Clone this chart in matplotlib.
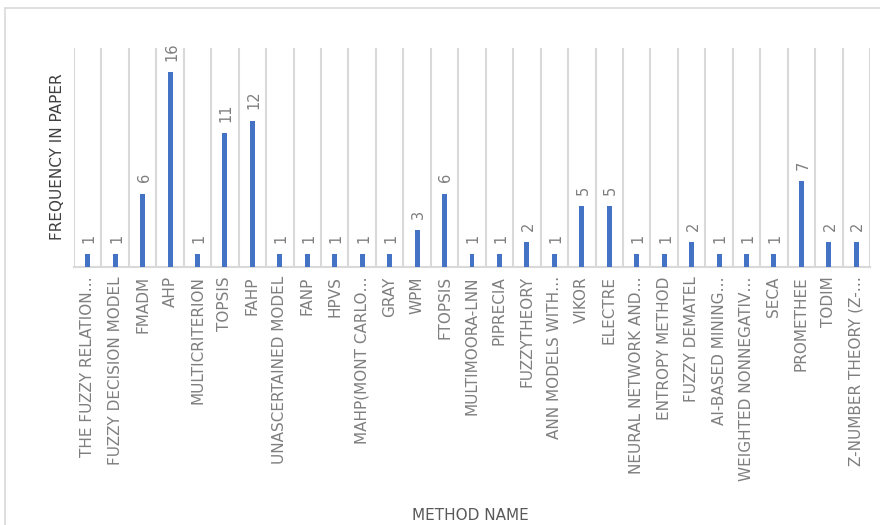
import matplotlib
matplotlib.use("Agg")
import matplotlib.pyplot as plt
from matplotlib.patches import Rectangle

methods = [
    "THE FUZZY RELATION…", "FUZZY DECISION MODEL", "FMADM", "AHP",
    "MULTICRITERION", "TOPSIS", "FAHP", "UNASCERTAINED MODEL", "FANP",
    "HPVS", "MAHP(MONT CARLO…", "GRAY", "WPM", "FTOPSIS",
    "MULTIMOORA-LNN", "PIPRECIA", "FUZZYTHEORY", "ANN MODELS WITH…",
    "VIKOR", "ELECTRE", "NEURAL NETWORK AND…", "ENTROPY METHOD",
    "FUZZY DEMATEL", "AI-BASED MINING…", "WEIGHTED NONNEGATIV…", "SECA",
    "PROMETHEE", "TODIM", "Z-NUMBER THEORY (Z-…",
]
frequency = [1, 1, 6, 16, 1, 11, 12, 1, 1, 1, 1, 1, 3, 6, 1,
             1, 2, 1, 5, 5, 1, 1, 2, 1, 1, 1, 7, 2, 2]

BAR = "#4472C4"
GRID = "#d9d9d9"
TXT = "#7f7f7f"

plt.rcParams["font.family"] = ["DejaVu Sans"]

fig = plt.figure(figsize=(8.8, 5.25), dpi=100)
fig.patches.append(Rectangle((5 / 880, -0.1), 1.2, 1.1 - 8 / 525,
                             transform=fig.transFigure, fill=False,
                             edgecolor=GRID, linewidth=1.2))

ax = fig.add_axes([74 / 880, 1 - 266.5 / 525, 796 / 880, 219 / 525])
x = list(range(len(methods)))
ax.bar(x, frequency, width=0.18, color=BAR, zorder=3)

ax.set_xlim(-0.5, len(methods) - 0.5)
ax.set_ylim(0, 18)

for b in range(len(methods) + 1):
    ax.axvline(b - 0.5, color=GRID, linewidth=1.5, zorder=1)

for xi, v in zip(x, frequency):
    ax.annotate(str(v), (xi, v), xytext=(1, 8), textcoords="offset points",
                rotation=90, ha="center", va="bottom", color=TXT,
                fontsize=10.5)

ax.set_xticks(x)
ax.set_xticklabels(methods, rotation=90, fontsize=11, color=TXT)
ax.tick_params(axis="x", length=0, pad=7)
ax.set_yticks([])

for s in ("left", "right", "top"):
    ax.spines[s].set_visible(False)
ax.spines["bottom"].set_color(GRID)
ax.spines["bottom"].set_linewidth(1.5)

fig.text(57 / 880, 1 - 157 / 525, "FREQUENCY IN PAPER", rotation=90,
         ha="center", va="center", fontsize=11, color="#404040")
fig.text(470 / 880, 1 - 516 / 525, "METHOD NAME", ha="center",
         va="center", fontsize=11, color="#595959")

fig.savefig("out.png", dpi=100)
